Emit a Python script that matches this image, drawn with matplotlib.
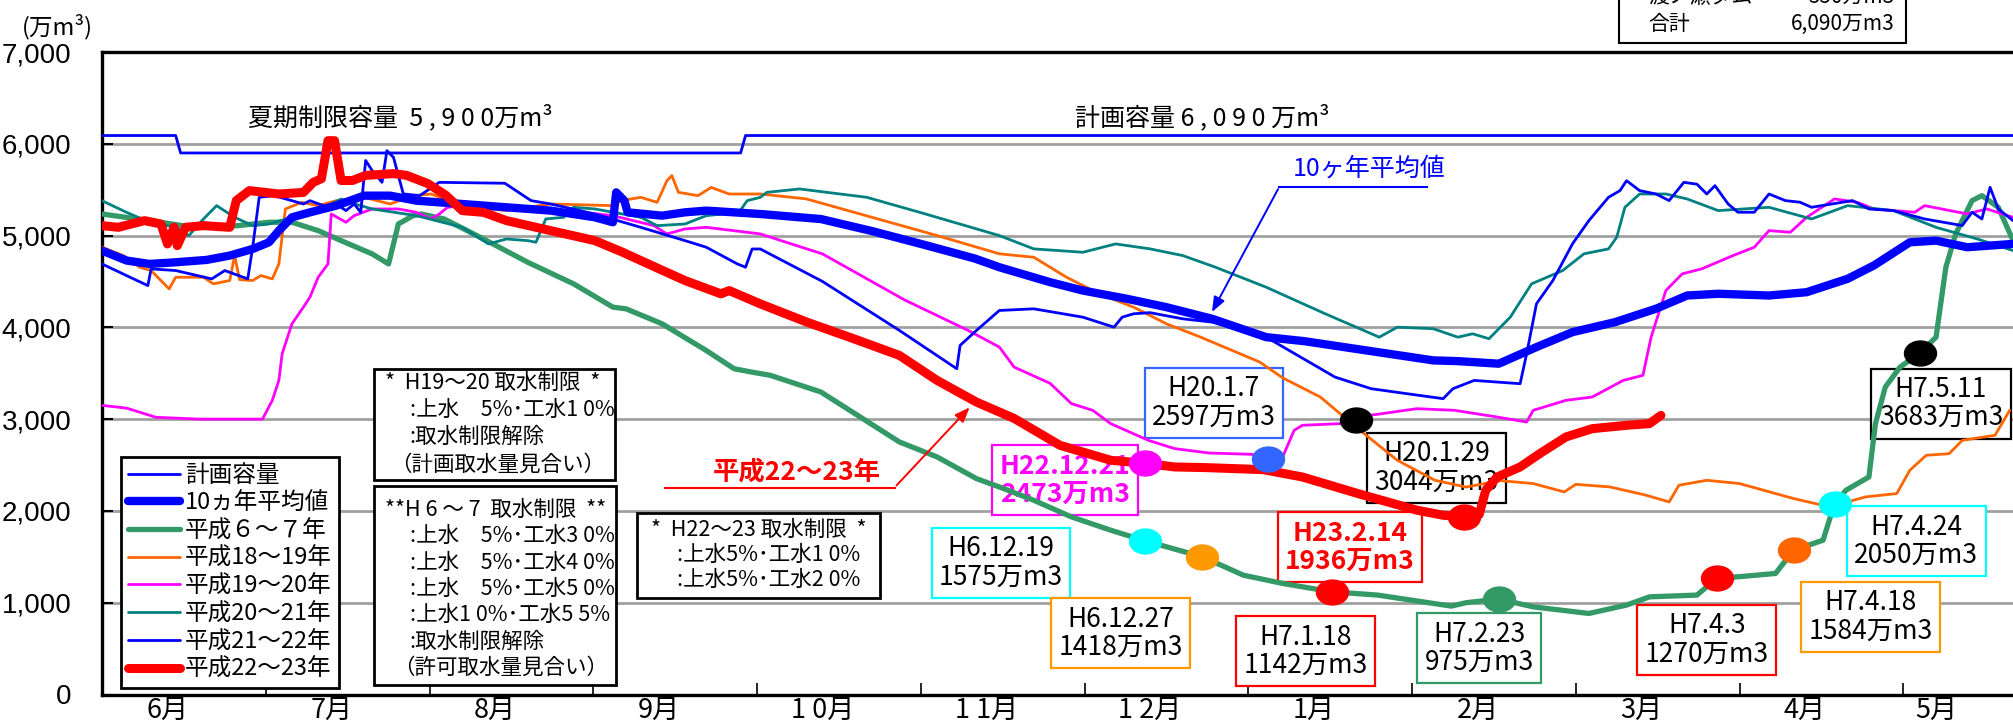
import numpy as np
import matplotlib
matplotlib.use('Agg')
import matplotlib.pyplot as plt
from matplotlib.patches import Rectangle
from matplotlib.path import Path
from matplotlib.transforms import Affine2D

JP = ['Noto Sans CJK JP', 'DejaVu Sans']
NARROW = ['Liberation Sans Narrow', 'Noto Sans CJK JP', 'DejaVu Sans']
plt.rcParams['font.family'] = JP

# ---------------- data (x = months since 1 June, y = 万m3) ----------------
month_labels = ['6月', '7月', '8月', '9月', '1 0月', '1 1月', '1 2月', '1月', '2月', '3月', '4月', '5月']
y_ticks = [0, 1000, 2000, 3000, 4000, 5000, 6000, 7000]

plan_cap = [(0.0, 6090), (0.45, 6090), (0.48, 5900), (3.90, 5900), (3.93, 6090), (11.67, 6090)]

avg10 = [(0.00, 4836), (0.15, 4728), (0.29, 4691), (0.45, 4709), (0.64, 4735), (0.78, 4782), (0.92, 4854),
         (1.02, 4927), (1.08, 5054), (1.16, 5199), (1.27, 5253), (1.43, 5326), (1.60, 5435), (1.76, 5435),
         (1.92, 5380), (2.20, 5344), (2.47, 5308), (2.74, 5272), (3.01, 5199), (3.12, 5145), (3.14, 5471),
         (3.19, 5380), (3.21, 5253), (3.42, 5217), (3.56, 5253), (3.69, 5272), (4.02, 5235), (4.39, 5180),
         (4.70, 5050), (5.02, 4900), (5.33, 4750), (5.48, 4655), (5.79, 4492), (5.99, 4401), (6.26, 4311),
         (6.50, 4220), (6.78, 4093), (7.11, 3893), (7.34, 3850), (7.72, 3749), (8.13, 3640), (8.28, 3632),
         (8.53, 3604), (8.76, 3785), (8.98, 3948), (9.24, 4057), (9.49, 4203), (9.68, 4347), (9.87, 4366),
         (10.18, 4347), (10.41, 4383), (10.66, 4529), (10.82, 4674), (11.04, 4927), (11.20, 4945),
         (11.39, 4873), (11.67, 4909)]

h06_07 = [(0.00, 5235), (0.29, 5163), (0.56, 5090), (0.83, 5108), (1.02, 5145), (1.16, 5145), (1.32, 5054),
          (1.46, 4945), (1.65, 4800), (1.75, 4691), (1.81, 5127), (1.90, 5217), (1.95, 5235), (2.09, 5181),
          (2.33, 4963), (2.60, 4709), (2.88, 4474), (3.12, 4220), (3.20, 4202), (3.42, 4039), (3.69, 3748),
          (3.86, 3549), (3.97, 3512), (4.08, 3478), (4.39, 3296), (4.87, 2751), (5.10, 2588), (5.34, 2352),
          (5.48, 2261), (5.69, 2116), (5.92, 1935), (6.16, 1790), (6.37, 1674), (6.72, 1500), (6.97, 1300),
          (7.21, 1210), (7.51, 1119), (7.79, 1083), (8.24, 963), (8.33, 1000), (8.53, 1040), (8.74, 955),
          (9.08, 883), (9.31, 974), (9.45, 1064), (9.74, 1083), (9.86, 1264), (10.04, 1290), (10.22, 1319),
          (10.33, 1572), (10.51, 1681), (10.58, 2080), (10.65, 2225), (10.79, 2370), (10.83, 2951),
          (10.89, 3349), (10.98, 3567), (11.10, 3719), (11.20, 3893), (11.26, 4655), (11.32, 5018),
          (11.42, 5381), (11.48, 5435), (11.58, 5308), (11.67, 4946)]

h18_19 = [(0.00, 4873), (0.13, 4782), (0.23, 4655), (0.30, 4619), (0.41, 4419), (0.45, 4546), (0.62, 4546),
          (0.68, 4474), (0.78, 4510), (0.81, 4782), (0.84, 4520), (0.92, 4510), (0.97, 4564), (1.04, 4528),
          (1.08, 4691), (1.12, 5290), (1.22, 5362), (1.32, 5326), (1.43, 5380), (1.60, 5417), (1.76, 5344),
          (1.90, 5435), (2.01, 5453), (2.20, 5326), (2.47, 5272), (2.74, 5344), (3.12, 5326), (3.17, 5380),
          (3.29, 5417), (3.39, 5362), (3.45, 5598), (3.48, 5653), (3.52, 5471), (3.64, 5435), (3.72, 5525),
          (3.83, 5453), (4.02, 5453), (4.30, 5400), (4.70, 5200), (5.10, 5000), (5.48, 4801), (5.69, 4764),
          (5.89, 4546), (6.09, 4366), (6.30, 4220), (6.50, 4039), (6.70, 3900), (7.07, 3622), (7.21, 3450),
          (7.44, 3241), (7.67, 2896), (7.91, 2552), (8.14, 2334), (8.33, 2260), (8.54, 2330), (8.74, 2298),
          (8.93, 2207), (9.00, 2290), (9.21, 2261), (9.43, 2171), (9.57, 2098), (9.63, 2280), (9.80, 2334),
          (10.00, 2298), (10.33, 2135), (10.55, 2044), (10.77, 2153), (10.96, 2189), (11.04, 2443),
          (11.14, 2606), (11.28, 2624), (11.36, 2769), (11.56, 2824), (11.65, 3096)]

h19_20 = [(0.00, 3150), (0.15, 3120), (0.33, 3020), (0.60, 3000), (0.98, 3000), (1.04, 3205), (1.08, 3422),
          (1.10, 3712), (1.16, 4039), (1.23, 4220), (1.27, 4329), (1.32, 4546), (1.38, 4691), (1.40, 5235),
          (1.49, 5145), (1.54, 5217), (1.65, 5290), (1.81, 5290), (1.92, 5253), (2.01, 5181), (2.06, 5235),
          (2.11, 5308), (2.20, 5326), (2.47, 5326), (2.74, 5290), (3.12, 5217), (3.37, 5108), (3.45, 5018),
          (3.56, 5072), (3.69, 5090), (4.02, 5018), (4.40, 4800), (4.90, 4300), (5.29, 3966), (5.48, 3785),
          (5.57, 3567), (5.79, 3390), (5.92, 3169), (6.05, 3096), (6.16, 2951), (6.39, 2769), (6.55, 2679),
          (6.76, 2631), (7.02, 2617), (7.12, 2570), (7.21, 2588), (7.28, 2878), (7.33, 2933), (7.56, 2951),
          (7.67, 3023), (8.03, 3114), (8.26, 3096), (8.52, 3023), (8.70, 2969), (8.74, 3096), (8.94, 3205),
          (9.10, 3241), (9.29, 3422), (9.41, 3477), (9.46, 3893), (9.55, 4401), (9.65, 4583), (9.77, 4638),
          (9.96, 4782), (10.09, 4873), (10.18, 5054), (10.31, 5036), (10.41, 5199), (10.58, 5399),
          (10.72, 5362), (10.82, 5290), (11.07, 5254), (11.13, 5326), (11.39, 5236), (11.51, 5290),
          (11.67, 5199)]

h20_21 = [(0.00, 5380), (0.15, 5253), (0.29, 5145), (0.45, 5090), (0.53, 4999), (0.62, 5181), (0.70, 5326),
          (0.81, 5199), (0.92, 5108), (1.02, 5126), (1.16, 5199), (1.27, 5272), (1.38, 5326), (1.46, 5398),
          (1.51, 5362), (1.65, 5290), (1.92, 5217), (2.20, 5090), (2.36, 4909), (2.47, 4963), (2.60, 4945),
          (2.65, 4927), (2.71, 5181), (2.82, 5199), (2.88, 5308), (3.01, 5290), (3.29, 5199), (3.39, 5108),
          (3.56, 5126), (3.69, 5217), (3.89, 5253), (3.94, 5380), (4.02, 5417), (4.06, 5471), (4.26, 5508),
          (4.67, 5417), (5.00, 5250), (5.48, 5000), (5.69, 4855), (5.99, 4818), (6.19, 4909), (6.40, 4855),
          (6.60, 4782), (6.80, 4655), (7.11, 4437), (7.47, 4148), (7.80, 3893), (7.91, 4002), (8.13, 3985),
          (8.28, 3893), (8.37, 3930), (8.47, 3876), (8.60, 4111), (8.73, 4474), (8.92, 4619), (9.05, 4801),
          (9.20, 4855), (9.25, 4982), (9.30, 5308), (9.39, 5453), (9.55, 5453), (9.68, 5399), (9.87, 5272),
          (10.18, 5308), (10.44, 5181), (10.66, 5326), (10.94, 5272), (11.20, 5090), (11.45, 4964),
          (11.67, 4837)]

h21_22 = [(0.00, 4691), (0.15, 4564), (0.28, 4455), (0.30, 4637), (0.45, 4619), (0.67, 4528), (0.75, 4619),
          (0.89, 4528), (0.92, 4873), (0.96, 5417), (1.05, 5435), (1.16, 5380), (1.23, 5344), (1.27, 5380),
          (1.38, 5308), (1.43, 5344), (1.49, 5272), (1.54, 5344), (1.58, 5253), (1.61, 5818), (1.65, 5708),
          (1.71, 5580), (1.74, 5925), (1.78, 5852), (1.84, 5454), (1.94, 5435), (2.06, 5580), (2.46, 5570),
          (2.62, 5381), (2.74, 5344), (3.01, 5235), (3.29, 5090), (3.56, 4945), (3.69, 4873), (3.88, 4691),
          (3.93, 4655), (3.97, 4854), (4.02, 4854), (4.40, 4500), (4.87, 3966), (5.22, 3549), (5.24, 3803),
          (5.34, 3966), (5.48, 4184), (5.69, 4202), (5.99, 4111), (6.18, 4002), (6.23, 4111), (6.30, 4148),
          (6.40, 4160), (6.60, 4093), (6.78, 4057), (7.11, 3893), (7.53, 3458), (7.75, 3332), (7.97, 3277),
          (8.19, 3223), (8.25, 3332), (8.38, 3422), (8.66, 3386), (8.70, 3712), (8.76, 4257), (8.86, 4510),
          (8.98, 4910), (9.08, 5163), (9.20, 5417), (9.27, 5490), (9.31, 5598), (9.39, 5490), (9.49, 5453),
          (9.57, 5381), (9.66, 5580), (9.74, 5560), (9.80, 5453), (9.85, 5544), (9.93, 5345), (9.99, 5254),
          (10.09, 5254), (10.18, 5453), (10.28, 5381), (10.37, 5363), (10.44, 5308), (10.69, 5381),
          (10.79, 5290), (10.94, 5272), (11.13, 5181), (11.36, 5109), (11.42, 5254), (11.48, 5181),
          (11.53, 5526), (11.58, 5290), (11.67, 5163)]

h22_23 = [(0.00, 5108), (0.10, 5090), (0.26, 5163), (0.36, 5126), (0.40, 4909), (0.44, 5090), (0.46, 4890),
          (0.51, 5090), (0.62, 5108), (0.78, 5090), (0.82, 5381), (0.90, 5490), (1.08, 5453), (1.23, 5470),
          (1.29, 5580), (1.34, 5620), (1.38, 6034), (1.42, 6034), (1.46, 5600), (1.53, 5600), (1.61, 5656),
          (1.78, 5675), (1.86, 5656), (1.99, 5566), (2.10, 5439), (2.20, 5272), (2.33, 5253), (2.47, 5163),
          (2.74, 5054), (3.01, 4945), (3.18, 4818), (3.29, 4728), (3.56, 4510), (3.78, 4365), (3.83, 4401),
          (4.02, 4256), (4.30, 4060), (4.60, 3870), (4.87, 3694), (5.10, 3422), (5.34, 3186), (5.57, 3008),
          (5.85, 2715), (6.16, 2552), (6.37, 2519), (6.55, 2479), (6.74, 2472), (7.09, 2450), (7.33, 2370),
          (7.67, 2189), (8.03, 2008), (8.19, 1953), (8.32, 1935), (8.41, 1960), (8.45, 2225), (8.52, 2370),
          (8.66, 2479), (8.78, 2624), (8.94, 2806), (9.10, 2896), (9.31, 2933), (9.45, 2951), (9.52, 3041)]

# point markers (x, y) and their label texts
mark_x = [6.37, 7.12, 7.66, 8.32, 6.37, 6.72, 7.51, 8.53, 9.86, 10.33, 10.58, 11.10]
mark_y = [2519, 2570, 2994, 1935, 1674, 1500, 1119, 1040, 1264, 1572, 2080, 3719]
mark_text = ['H22.12.21\n2473万m3', 'H20.1.7\n2597万m3', 'H20.1.29\n3044万m3', 'H23.2.14\n1936万m3',
             'H6.12.19\n1575万m3', 'H6.12.27\n1418万m3', 'H7.1.18\n1142万m3', 'H7.2.23\n975万m3',
             'H7.4.3\n1270万m3', 'H7.4.18\n1584万m3', 'H7.4.24\n2050万m3', 'H7.5.11\n3683万m3']

legend_labels = ['計画容量', '10ヵ年平均値', '平成６～７年', '平成18～19年', '平成19～20年',
                 '平成20～21年', '平成21～22年', '平成22～23年']

# ---------------- styles / layout ----------------
mark_color = ['#FF00FF', '#3366FF', '#000000', '#FF0000', '#00FFFF', '#FF9900', '#FF0000', '#339966',
              '#FF0000', '#FF6600', '#00FFFF', '#000000']
box_color = ['#FF00FF', '#3366FF', '#000000', '#FF0000', '#00FFFF', '#FF9900', '#FF0000', '#339966',
             '#FF0000', '#FF9900', '#00FFFF', '#000000']
text_color = ['#FF00FF', 'black', 'black', '#FF0000', 'black', 'black', 'black', 'black',
              'black', 'black', 'black', 'black']
text_bold = [True, False, False, True] + [False] * 8
label_pos = [(5.88, 2334), (6.79, 3177), (8.15, 2470), (7.62, 1605), (5.49, 1434), (6.22, 666),
             (7.35, 473), (8.41, 506), (9.80, 596), (10.80, 847), (11.08, 1672), (11.23, 3169)]

W, H = 2013, 725
fig = plt.figure(figsize=(W / 100, H / 100), dpi=100)
ax_l, ax_t, ax_b = 102, 52, 694.5
ax = fig.add_axes([ax_l / W, (H - ax_b) / H, (W - ax_l) / W, (ax_b - ax_t) / H])
ax.set_xlim(0, 11.67)
ax.set_ylim(0, 7000)

ax.set_axisbelow(True)
ax.yaxis.grid(True, color='#A0A0A0', lw=2.0, zorder=0)
ax.set_yticks(y_ticks)
ax.set_yticklabels(['{:,}'.format(v) for v in y_ticks], fontfamily=['Liberation Sans', 'DejaVu Sans'],
                   fontsize=20)
ax.tick_params(axis='y', direction='in', length=8, width=1.5, pad=22)
ax.set_xticks(np.arange(1, 12))
ax.set_xticklabels([])
ax.tick_params(axis='x', direction='in', length=9, width=1.2)
lab_pos = [i + 0.4 for i in range(11)] + [11.2]
for p, lab in zip(lab_pos, month_labels):
    ax.text(p, -168, lab, ha='center', va='center', fontsize=19.5, family=JP, clip_on=False)

for s in ['left', 'bottom', 'top']:
    ax.spines[s].set_linewidth(2.4)
ax.spines['right'].set_visible(False)


def xy(series):
    a = np.array(series, dtype=float)
    return a[:, 0], a[:, 1]


series_style = [
    (plan_cap, dict(color='#0000FF', lw=2.0, zorder=3)),
    (avg10, dict(color='#0000FF', lw=6.0, zorder=4)),
    (h06_07, dict(color='#339966', lw=3.8, zorder=3)),
    (h18_19, dict(color='#FF6600', lw=2.0, zorder=3)),
    (h19_20, dict(color='#FF00FF', lw=2.0, zorder=3)),
    (h20_21, dict(color='#008080', lw=2.0, zorder=3)),
    (h21_22, dict(color='#0000FF', lw=2.0, zorder=3)),
    (h22_23, dict(color='#FF0000', lw=6.5, zorder=5)),
]
handles = []
for (ser, st), lab in zip(series_style, legend_labels):
    x, y = xy(ser)
    ln, = ax.plot(x, y, solid_joinstyle='round', solid_capstyle='round', label=lab, **st)
    handles.append(ln)

# elliptical markers
ell = Path.unit_circle().transformed(Affine2D().scale(1.0, 0.78))
for mx, my, c in zip(mark_x, mark_y, mark_color):
    ax.plot([mx], [my], marker=ell, ms=23, color=c, mec=c, ls='none', zorder=6)

for (px, py), t, bc, tc, b in zip(label_pos, mark_text, box_color, text_color, text_bold):
    ax.text(px, py, t, ha='center', va='center', fontsize=19, family=NARROW, color=tc,
            fontweight='bold' if b else 'normal', linespacing=1.05, zorder=2,
            bbox=dict(boxstyle='square,pad=0.28', fc='white', ec=bc, lw=1.6))

# legend
leg = ax.legend(handles=handles, loc='lower left', bbox_to_anchor=(0.0099, 0.0101), fontsize=17,
                handlelength=2.2, handletextpad=0.2, labelspacing=0.2, borderpad=0.3,
                borderaxespad=0, fancybox=False, framealpha=1, edgecolor='black')
leg.get_frame().set_linewidth(2.0)
leg.set_zorder(7)

# big texts
ax.text(1.82, 6285, '夏期制限容量  5 , 9 0 0万m³', ha='center', va='center', fontsize=18)
ax.text(6.72, 6285, '計画容量 6 , 0 9 0 万m³', ha='center', va='center', fontsize=18)

# 10-year average annotation
ax.text(7.74, 5729, '10ヶ年平均値', ha='center', va='center', fontsize=18, color='#0000FF')
ax.plot([7.19, 8.09], [5533, 5533], color='#0000FF', lw=1.5, zorder=6)
ax.annotate('', xy=(6.77, 4140), xytext=(7.19, 5533),
            arrowprops=dict(arrowstyle='-|>,head_length=0.9,head_width=0.35', color='#0000FF', lw=1.4),
            zorder=6)

# H22-23 annotation
ax.text(4.24, 2424, '平成22～23年', ha='center', va='center', fontsize=19, color='#FF0000',
        fontweight='bold')
ax.plot([3.44, 4.84], [2255, 2255], color='#FF0000', lw=1.5, zorder=6)
ax.annotate('', xy=(5.31, 3150), xytext=(4.84, 2255),
            arrowprops=dict(arrowstyle='-|>,head_length=0.9,head_width=0.35', color='#FF0000', lw=1.4),
            zorder=6)


# restriction boxes
def note_box(x0, y0, x1, y1, lines, starts, top, step, fs=15.5):
    ax.add_patch(Rectangle((x0, y0), x1 - x0, y1 - y0, fc='white', ec='black', lw=2.0, zorder=6))
    for i, (ln, sx) in enumerate(zip(lines, starts)):
        ax.text(sx, top - i * step, ln, ha='left', va='center', fontsize=fs, zorder=7)


note_box(1.66, 2334, 3.13, 3542,
         ['*  H19～20 取水制限  *', ':上水　5%･工水1 0%', ':取水制限解除', '（計画取水量見合い）'],
         [1.73, 1.88, 1.88, 1.76], 3390, 294)
note_box(1.66, 105, 3.14, 2272,
         ['**H 6 ～ 7  取水制限  **', ':上水　5%･工水3 0%', ':上水　5%･工水4 0%', ':上水　5%･工水5 0%',
          ':上水1 0%･工水5 5%', ':取水制限解除', '（許可取水量見合い）'],
         [1.73, 1.88, 1.88, 1.88, 1.88, 1.88, 1.78], 2008, 286)
note_box(3.27, 1047, 4.75, 1972,
         ['*  H22～23 取水制限  *', ':上水5%･工水1 0%', ':上水5%･工水2 0%'],
         [3.35, 3.51, 3.51], 1790, 272)

# unit label
fig.text(57 / W, 1 - 27 / H, '(万m³)', ha='center', va='center', fontsize=17)

# partially visible capacity box at the top right
fig.add_artist(Rectangle((1619 / W, 1 - 43 / H), (1906 - 1619) / W, 60 / H, transform=fig.transFigure,
                         fc='white', ec='black', lw=1.5, clip_on=False))
fig.text(1648 / W, 1 - 24 / H, '合計', ha='left', va='center', fontsize=15)
fig.text(1895 / W, 1 - 24 / H, '6,090万m3', ha='right', va='center', fontsize=15)
fig.text(1648 / W, 1 + 3 / H, '渡ノ瀬ダム', ha='left', va='center', fontsize=15)
fig.text(1895 / W, 1 + 3 / H, '550万m3', ha='right', va='center', fontsize=15)

fig.savefig('out.png', dpi=100)
